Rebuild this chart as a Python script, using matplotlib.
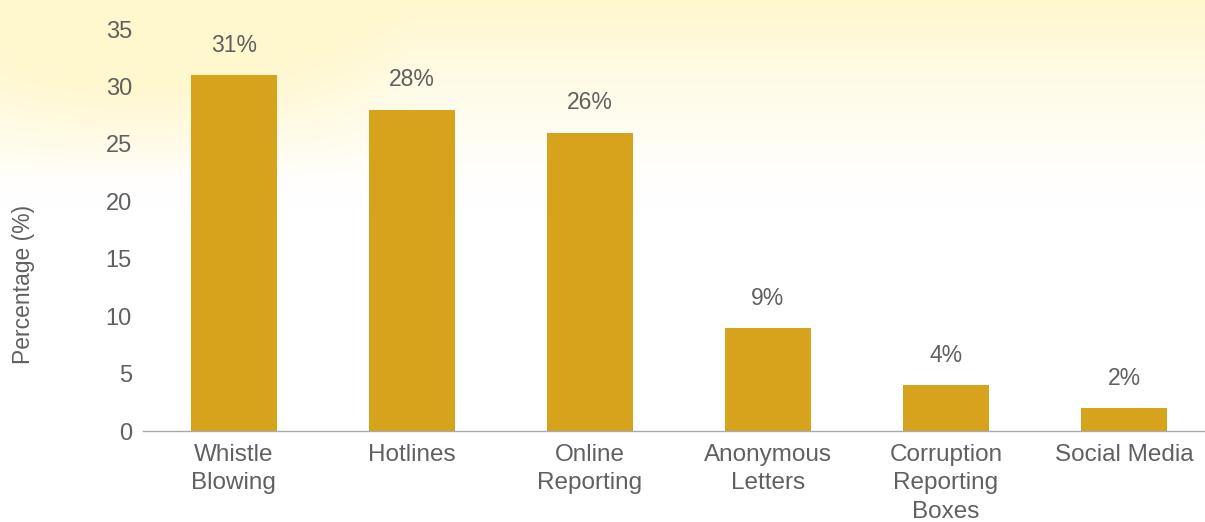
import numpy as np
import matplotlib.pyplot as plt

categories = ["Whistle\nBlowing", "Hotlines", "Online\nReporting",
              "Anonymous\nLetters", "Corruption\nReporting\nBoxes", "Social Media"]
values = [31, 28, 26, 9, 4, 2]
yticks = [0, 5, 10, 15, 20, 25, 30, 35]

bar_color = "#D8A31C"
text_color = "#606060"

plt.rcParams['font.family'] = ['Liberation Sans', 'DejaVu Sans']

fig = plt.figure(figsize=(12.05, 5.22), dpi=100)

# warm glow along the top of the page
bg = fig.add_axes([0, 0, 1, 1], zorder=-10)
h, w = 522, 1205
yy, xx = np.mgrid[0:h, 0:w]
fade = np.clip(1 - yy / 210.0, 0, 1) ** 1.4
side = np.clip(1 - ((xx - 150) / 260.0) ** 2, 0, 1) * np.clip(1 - (yy - 60) ** 2 / 120.0 ** 2, 0, 1) * 0.5
glow = np.clip(fade + side, 0, 1)
top = np.array([255, 247, 205]) / 255.0
img = 1 - glow[..., None] * (1 - top)
bg.imshow(img, aspect='auto', extent=[0, 1, 0, 1], origin='upper')
bg.axis('off')

ax = fig.add_axes([0.1187, 0.174, 0.8813, 0.779])
ax.patch.set_alpha(0)
x = np.arange(len(values))
bars = ax.bar(x, values, width=0.48, color=bar_color)

for xi, v in zip(x, values):
    ax.annotate(f"{v}%", (xi, v), xytext=(0, 13), textcoords='offset points',
                ha='center', va='bottom', fontsize=16.5, color=text_color)

ax.set_xlim(-0.51, 5.455)
ax.set_ylim(0, 35.4)
ax.set_yticks(yticks)
ax.set_xticks(x)
ax.set_xticklabels(categories, fontsize=17.5, color=text_color, linespacing=1.38)
ax.tick_params(axis='y', length=0, pad=8, labelsize=17, labelcolor=text_color)
ax.tick_params(axis='x', length=0, pad=9)

for s in ['top', 'right', 'left']:
    ax.spines[s].set_visible(False)
ax.spines['bottom'].set_color('#aaaaaa')
ax.spines['bottom'].set_linewidth(1)

ax.set_ylabel("Percentage (%)", fontsize=16.5, color=text_color)
ax.yaxis.set_label_coords(-0.102, 0.36)

fig.savefig("out.png", dpi=100)
